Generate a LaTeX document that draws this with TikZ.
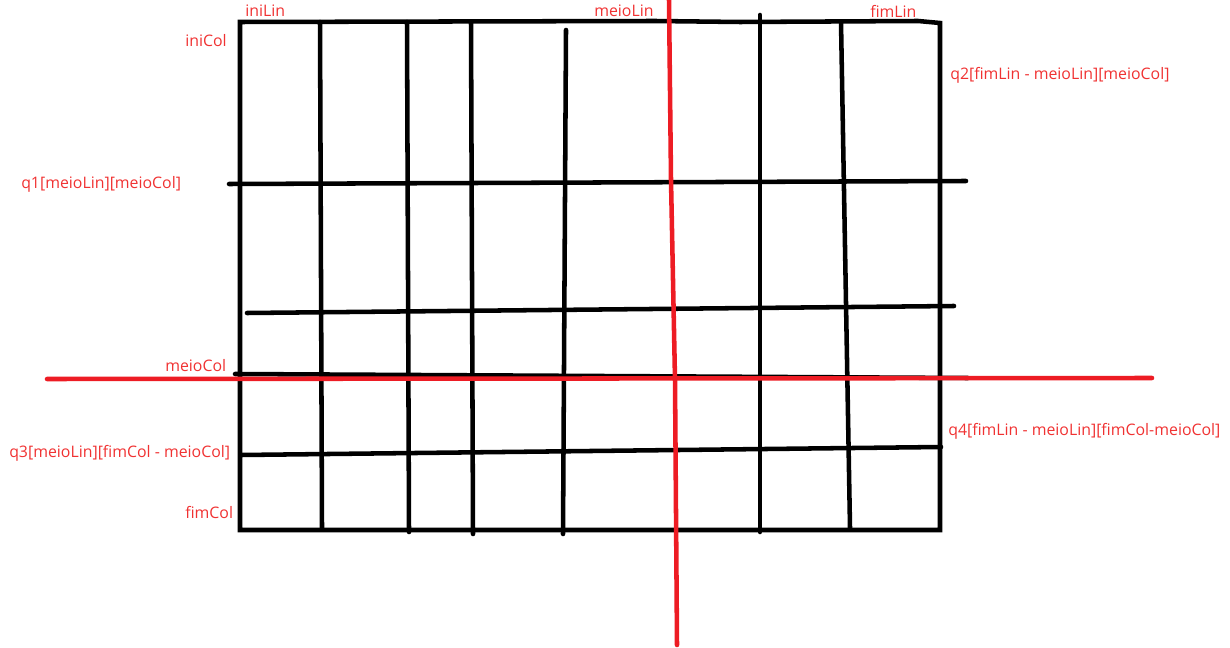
\documentclass[tikz,border=0pt]{standalone}
\usepackage{fontspec}
\setmainfont{Open Sans}
\definecolor{lbl}{RGB}{240,50,50}
\definecolor{paintred}{RGB}{237,28,36}
\begin{document}
\begin{tikzpicture}[x=0.75pt,y=-0.75pt,
  blk/.style={line width=3.4pt,black,line cap=round},
  redl/.style={line width=3.4pt,paintred,line cap=round},
  lab/.style={text=lbl,font=\fontsize{11.9}{14}\selectfont,inner sep=0pt,anchor=west}]
\useasboundingbox (0,0) rectangle (1230,648);
% outer frame
\draw[blk] (240,22) -- (655,21) -- (740,22) -- (918,21) -- (940,23) -- (940,530) -- (240,530) -- cycle;
% verticals
\draw[blk] (320,22) -- (322,528);
\draw[blk] (407,22) -- (409,532);
\draw[blk] (471,22) -- (473,534);
\draw[blk] (566,30) -- (563,534);
\draw[blk] (760,15) -- (760,532);
\draw[blk] (841,22) -- (850,528);
% horizontals
\draw[blk] (229,184) -- (966,181);
\draw[blk] (247,313) -- (954,306);
\draw[blk] (235,374) -- (968,378);
\draw[blk] (241,455) -- (941,447);
% red cut lines
\draw[redl] (47,379) -- (1152,378);
\draw[redl] (669,0) -- (671,180) -- (675,380) -- (677,645);
% labels
\node[lab] (iniLin) at (245,11) {iniLin};
\node[lab] (meioLin) at (594,11) {meioLin};
\node[lab] (fimLin) at (870,11) {fimLin};
\node[lab] (iniCol) at (185,41) {iniCol};
\node[lab] (q1) at (21,184) {q1[meioLin][meioCol]};
\node[lab] (q2) at (950,75) {q2[fimLin - meioLin][meioCol]};
\node[lab] (meioCol) at (165,366) {meioCol};
\node[lab] (q3) at (9,453) {q3[meioLin][fimCol - meioCol]};
\node[lab] (fimCol) at (185,513) {fimCol};
\node[lab] (q4) at (948,431) {q4[fimLin - meioLin][fimCol-meioCol]};
\end{tikzpicture}
\end{document}
